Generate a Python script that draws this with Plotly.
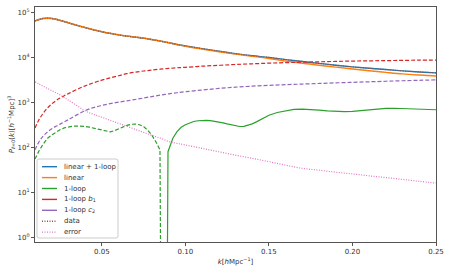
import plotly.graph_objects as go

# ---------------- data ----------------
k = [0.010, 0.0125, 0.015, 0.0175, 0.020, 0.0225, 0.025, 0.0275, 0.030, 0.035,
     0.040, 0.045, 0.050, 0.055, 0.060, 0.065, 0.070, 0.075, 0.080, 0.085,
     0.090, 0.095, 0.100, 0.110, 0.120, 0.130, 0.140, 0.150, 0.160, 0.170,
     0.180, 0.190, 0.200, 0.210, 0.220, 0.230, 0.240, 0.250]

linear = [66000, 71000, 75000, 76000, 75000, 72000, 68000, 64000, 60000, 53000,
          47000, 42000, 38000, 35000, 32500, 30500, 29000, 27500, 25500, 23500,
          21500, 19500, 18000, 15500, 13600, 12000, 10700, 9600, 8400, 7500,
          6800, 6150, 5600, 5100, 4700, 4350, 4100, 3900]

linear_1loop = [65950, 70900, 74880, 75840, 74810, 71780, 67750, 63730, 59710, 52700,
                46710, 41730, 37760, 34780, 32240, 30190, 28670, 27210, 25315, 23450,
                21600, 19720, 18320, 15900, 13970, 12300, 11035, 10120, 9060, 8210,
                7475, 6780, 6235, 5795, 5442, 5088, 4810, 4590]

data_vals = [65950, 70900, 74880, 75840, 74810, 71780, 67750, 63730, 59710, 52700,
             46710, 41730, 37760, 34780, 32240, 30190, 28670, 27210, 25315, 23450,
             21600, 19720, 18320, 15900, 13970, 12300, 11035, 10120, 9060, 8210,
             7475, 6780, 6235, 5795, 5442, 5088, 4810, 4590]

loop_b1 = [270, 420, 580, 760, 930, 1100, 1260, 1420, 1580, 1950,
           2350, 2750, 3150, 3550, 3950, 4400, 4750, 5050, 5300, 5550,
           5750, 5950, 6100, 6450, 6750, 7050, 7300, 7550, 7750, 7950,
           8100, 8250, 8400, 8500, 8600, 8700, 8800, 8850]

loop_c2 = [88, 135, 180, 222, 260, 295, 330, 370, 415, 530,
           660, 770, 860, 945, 1020, 1090, 1170, 1260, 1360, 1460,
           1560, 1650, 1740, 1900, 2060, 2200, 2320, 2420, 2500, 2580,
           2660, 2740, 2820, 2900, 2980, 3060, 3130, 3200]

error = [2900, 2570, 2300, 2060, 1845, 1650, 1480, 1290, 1130, 860,
         650, 545, 470, 400, 344, 295, 252, 216, 185, 160,
         136, 123, 113, 95, 80, 67, 57, 48, 40, 34,
         31, 28, 25.6, 23.2, 21.2, 19.3, 17.5, 16]

# signed 1-loop term on its own grid
k_1loop = [0.010, 0.0125, 0.015, 0.0175, 0.020, 0.0225, 0.025, 0.0275, 0.030, 0.0325,
           0.035, 0.0375, 0.040, 0.0425, 0.045, 0.0475, 0.050, 0.0525, 0.055, 0.0575,
           0.060, 0.0625, 0.065, 0.0675, 0.070, 0.0725, 0.075, 0.0775, 0.080, 0.0825,
           0.0848, 0.0896, 0.0925, 0.095, 0.0975, 0.100, 0.1025, 0.105, 0.1075, 0.110,
           0.1125, 0.115, 0.1175, 0.120, 0.1225, 0.125, 0.1275, 0.130, 0.1325, 0.135,
           0.1375, 0.140, 0.1425, 0.145, 0.1475, 0.150, 0.155, 0.160, 0.165, 0.170,
           0.175, 0.180, 0.185, 0.190, 0.195, 0.200, 0.205, 0.210, 0.215, 0.220,
           0.225, 0.230, 0.235, 0.240, 0.245, 0.250]
one_loop = [-55, -85, -120, -160, -188, -220, -248, -272, -286, -295,
            -299, -298, -292, -282, -268, -255, -240, -226, -222, -235,
            -258, -285, -310, -327, -332, -320, -290, -240, -185, -130,
            -88, 80, 160, 224, 280, 320, 355, 378, 392, 400,
            400, 395, 385, 370, 352, 334, 316, 300, 292, 295,
            310, 335, 370, 410, 460, 520, 600, 660, 700, 712,
            700, 675, 650, 630, 625, 635, 660, 695, 725, 742,
            745, 738, 725, 710, 698, 690]

x_ticks = [0.05, 0.10, 0.15, 0.20, 0.25]
x_tick_labels = ["0.05", "0.10", "0.15", "0.20", "0.25"]
y_ticks = [1, 10, 100, 1000, 10000, 100000]
y_tick_labels = ["10<sup>0</sup>", "10<sup>1</sup>", "10<sup>2</sup>",
                 "10<sup>3</sup>", "10<sup>4</sup>", "10<sup>5</sup>"]

legend_names = ["linear + 1-loop", "linear", "1-loop", "1-loop <i>b</i><sub>1</sub>",
                "1-loop <i>c</i><sub>2</sub>", "data", "error"]

# ---------------- styles ----------------
C_BLUE, C_ORANGE, C_GREEN = "#1f77b4", "#ff7f0e", "#2ca02c"
C_RED, C_PURPLE, C_BROWN, C_PINK = "#d62728", "#9467bd", "#8c564b", "#e377c2"
legend_colors = [C_BLUE, C_ORANGE, C_GREEN, C_RED, C_PURPLE, C_BROWN, C_PINK]
legend_dash = ["solid"] * 5 + ["1px,1.5px", "1px,1.5px"]

TINY = 1e-30
neg_part = [-v if v < 0 else TINY for v in one_loop]
pos_part = [v if v > 0 else TINY for v in one_loop]

LW = 1.2
DASH = "4px,2px"
DOT = "1px,1.5px"

fig = go.Figure()
fig.add_trace(go.Scatter(x=k, y=linear_1loop, mode="lines", name="linear + 1-loop",
                         line=dict(color=C_BLUE, width=1.4, shape="spline"), showlegend=False))
fig.add_trace(go.Scatter(x=k, y=linear, mode="lines", name="linear",
                         line=dict(color=C_ORANGE, width=1.4, shape="spline"), showlegend=False))
fig.add_trace(go.Scatter(x=k_1loop, y=pos_part, mode="lines", name="1-loop",
                         line=dict(color=C_GREEN, width=LW), showlegend=False))
fig.add_trace(go.Scatter(x=k_1loop, y=neg_part, mode="lines", name="-1-loop",
                         line=dict(color=C_GREEN, width=LW, dash=DASH), showlegend=False))
fig.add_trace(go.Scatter(x=k, y=loop_b1, mode="lines", name="1-loop b1",
                         line=dict(color=C_RED, width=LW, dash=DASH, shape="spline"), showlegend=False))
fig.add_trace(go.Scatter(x=k, y=loop_c2, mode="lines", name="1-loop c2",
                         line=dict(color=C_PURPLE, width=LW, dash=DASH, shape="spline"), showlegend=False))
fig.add_trace(go.Scatter(x=k, y=data_vals, mode="lines", name="data",
                         line=dict(color=C_BROWN, width=LW, dash=DOT, shape="spline"), showlegend=False))
fig.add_trace(go.Scatter(x=k, y=error, mode="lines", name="error",
                         line=dict(color=C_PINK, width=LW, dash=DOT, shape="spline"), showlegend=False))

# ---------------- manual legend (matplotlib-like compact box) ----------------
L, R, T, B = 35, 436, 7, 242
PW, PH = R - L, B - T
def px(xp):
    return (xp - L) / PW
def py(yp):
    return (B - yp) / PH

x0, x1, y0, y1, rr = 37, 118, 159, 238, 2
path = (f"M {px(x0+rr)},{py(y0)} L {px(x1-rr)},{py(y0)} Q {px(x1)},{py(y0)} {px(x1)},{py(y0+rr)} "
        f"L {px(x1)},{py(y1-rr)} Q {px(x1)},{py(y1)} {px(x1-rr)},{py(y1)} "
        f"L {px(x0+rr)},{py(y1)} Q {px(x0)},{py(y1)} {px(x0)},{py(y1-rr)} "
        f"L {px(x0)},{py(y0+rr)} Q {px(x0)},{py(y0)} {px(x0+rr)},{py(y0)} Z")
shapes = [dict(type="path", xref="paper", yref="paper", path=path,
               line=dict(color="#cccccc", width=1), fillcolor="rgba(255,255,255,0.8)")]
annotations = []
row0, drow = 166.7, 10.9
for i, (nm, col, ds) in enumerate(zip(legend_names, legend_colors, legend_dash)):
    yc = row0 + i * drow
    shapes.append(dict(type="line", xref="paper", yref="paper",
                       x0=px(42), x1=px(57), y0=py(yc), y1=py(yc),
                       line=dict(color=col, width=1.4, dash=ds)))
    annotations.append(dict(xref="paper", yref="paper", x=px(61.5), y=py(yc),
                            text=nm, showarrow=False, xanchor="left", yanchor="middle",
                            font=dict(size=7, color="#333333", family="DejaVu Sans")))

axis_common = dict(showline=True, mirror=True, linecolor="#555555", linewidth=1,
                   ticks="outside", ticklen=3, tickcolor="#555555", tickwidth=1,
                   showgrid=False, zeroline=False,
                   tickfont=dict(size=7, color="#333333", family="DejaVu Sans"))

fig.update_layout(
    width=450, height=271,
    margin=dict(l=L, r=450 - R, t=T, b=271 - B),
    paper_bgcolor="white", plot_bgcolor="white",
    showlegend=False,
    font=dict(family="DejaVu Sans", size=7, color="#333333"),
    shapes=shapes, annotations=annotations,
    xaxis=dict(range=[0.01, 0.25], tickvals=x_ticks, ticktext=x_tick_labels,
               title=dict(text="<i>k</i>[<i>h</i>Mpc<sup>−1</sup>]", standoff=3,
                          font=dict(size=7, color="#333333")),
               automargin=False, **axis_common),
    yaxis=dict(type="log", range=[-0.11, 5.13], tickvals=y_ticks, ticktext=y_tick_labels,
               title=dict(text="<i>P</i><sub>ℓ=0</sub>(<i>k</i>)[<i>h</i><sup>−1</sup>Mpc]<sup>3</sup>",
                          standoff=2, font=dict(size=7, color="#333333")),
               automargin=False, **axis_common),
)

fig.write_html("out.html", config={"displayModeBar": False},
               post_script="document.body.style.margin='0px';document.body.style.overflow='hidden';")
